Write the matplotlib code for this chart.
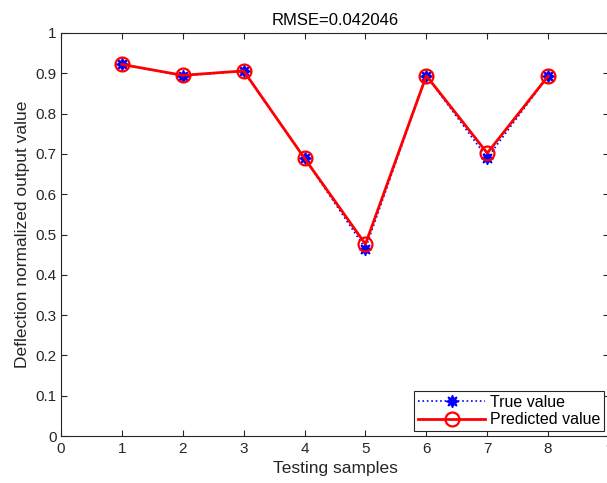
import matplotlib
matplotlib.use("Agg")
import matplotlib.pyplot as plt

samples = [1, 2, 3, 4, 5, 6, 7, 8]
true_values = [0.922, 0.894, 0.905, 0.689, 0.465, 0.894, 0.690, 0.893]
predicted_values = [0.922, 0.895, 0.906, 0.689, 0.476, 0.894, 0.702, 0.893]
title_text = "RMSE=0.042046"

plt.rcParams['font.family'] = ['Liberation Sans', 'DejaVu Sans']
fig = plt.figure(figsize=(6.07, 4.83), dpi=100)
ax = fig.add_axes([61/607, 47/483, 548/607, 403/483])

ax.plot(samples, true_values, linestyle=':', color='blue', linewidth=1.2,
        marker=(8, 1, 0), markersize=9, markerfacecolor='blue', markeredgecolor='blue',
        label='True value')
ax.plot(samples, predicted_values, linestyle='-', color='red', linewidth=2,
        marker='o', markersize=10, markerfacecolor='none', markeredgecolor='red',
        markeredgewidth=1.6, label='Predicted value')

ax.set_xlim(0, 9)
ax.set_ylim(0, 1)
ax.set_xticks(range(0, 10))
ax.set_yticks([i / 10 for i in range(11)])
ax.set_yticklabels(['0'] + ['%.1f' % (i / 10) for i in range(1, 10)] + ['1'])
c = '#262626'
ax.tick_params(direction='in', top=True, right=True, length=4, width=0.8,
               labelsize=11, colors=c, pad=3)
ax.tick_params(axis='x', pad=4)
for s in ax.spines.values():
    s.set_color(c)
    s.set_linewidth(0.8)
ax.set_title(title_text, fontsize=12, color='black', pad=6)
ax.set_xlabel('Testing samples', fontsize=12.5, color=c, labelpad=4)
ax.set_ylabel('Deflection normalized output value', fontsize=12.5, color=c, labelpad=4)
leg = ax.legend(loc='lower right', fontsize=11.5, frameon=True, fancybox=False,
                edgecolor=c, framealpha=1, borderaxespad=0.3, handlelength=4.2,
                borderpad=0.25, labelspacing=0.15, handletextpad=0.3)
leg.get_frame().set_linewidth(0.8)

fig.savefig('out.png', dpi=100)
